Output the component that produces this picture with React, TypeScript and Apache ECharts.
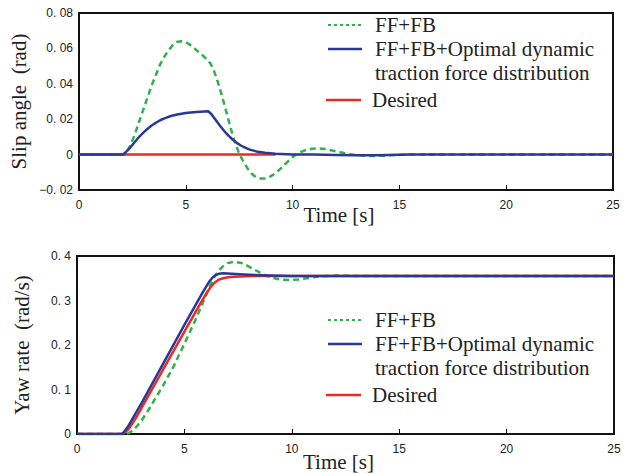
import React, { useEffect, useRef } from "react";
import * as echarts from "echarts";

// ---- data (Time [s], value) ----
const slipFF_t = [0, 2.0, 2.2, 2.4, 2.6, 2.8, 3.0, 3.2, 3.4, 3.6, 3.8, 4.0, 4.2, 4.4, 4.6, 4.8, 5.0, 5.2, 5.4, 5.6, 5.8, 6.0, 6.15, 6.3, 6.5, 6.7, 6.9, 7.1, 7.3, 7.5, 7.7, 7.9, 8.1, 8.3, 8.5, 8.7, 8.9, 9.1, 9.3, 9.5, 9.7, 9.9, 10.1, 10.3, 10.6, 10.9, 11.2, 11.5, 11.8, 12.1, 12.4, 12.7, 13.0, 13.4, 13.8, 14.3, 14.8, 15.3, 25];
const slipFF_v = [0, 0, 0.001, 0.005, 0.011, 0.018, 0.025, 0.032, 0.039, 0.045, 0.051, 0.0555, 0.059, 0.062, 0.0637, 0.064, 0.0635, 0.062, 0.06, 0.058, 0.056, 0.0535, 0.0515, 0.048, 0.041, 0.033, 0.024, 0.015, 0.007, 0.0005, -0.004, -0.008, -0.011, -0.0128, -0.0135, -0.0135, -0.0128, -0.0113, -0.0095, -0.0072, -0.0048, -0.0025, -0.0005, 0.001, 0.0025, 0.0033, 0.0035, 0.0032, 0.0025, 0.0017, 0.0009, 0.0002, -0.0003, -0.0007, -0.0008, -0.0006, -0.0002, 0, 0];

const slipOpt_t = [0, 2.08, 2.2, 2.4, 2.6, 2.8, 3.0, 3.2, 3.4, 3.6, 3.8, 4.0, 4.3, 4.6, 5.0, 5.5, 6.05, 6.2, 6.4, 6.6, 6.8, 7.0, 7.2, 7.4, 7.6, 7.8, 8.0, 8.3, 8.7, 9.2, 10, 11, 12, 13, 13.8, 14.5, 15.5, 25];
const slipOpt_v = [0, 0, 0.0015, 0.004, 0.007, 0.0098, 0.0123, 0.0145, 0.0164, 0.018, 0.0194, 0.0205, 0.0218, 0.0227, 0.0235, 0.024, 0.0245, 0.0228, 0.0195, 0.0163, 0.0133, 0.0107, 0.0084, 0.0065, 0.005, 0.0038, 0.0028, 0.0018, 0.001, 0.0005, 0.0001, 0, -0.0002, -0.0004, -0.0004, -0.0002, 0, 0];

const slipDes_t = [0, 9.2];
const slipDes_v = [0, 0];

const yawFF_t = [0, 2.25, 2.4, 2.6, 2.8, 3.0, 3.3, 3.6, 4.0, 4.5, 5.0, 5.5, 5.8, 6.0, 6.2, 6.4, 6.6, 6.8, 7.0, 7.3, 7.6, 7.9, 8.2, 8.5, 8.8, 9.1, 9.5, 9.9, 10.3, 10.7, 11.1, 11.6, 12.2, 13, 25];
const yawFF_v = [0, 0, 0.002, 0.008, 0.018, 0.03, 0.052, 0.076, 0.108, 0.152, 0.203, 0.255, 0.288, 0.312, 0.334, 0.353, 0.367, 0.377, 0.384, 0.387, 0.385, 0.379, 0.371, 0.363, 0.356, 0.351, 0.347, 0.346, 0.347, 0.35, 0.353, 0.355, 0.356, 0.355, 0.355];

const yawOpt_t = [0, 2.08, 2.2, 2.35, 2.5, 2.7, 3.0, 4.0, 5.0, 5.8, 6.0, 6.15, 6.3, 6.45, 6.6, 6.8, 7.2, 8, 9, 10, 25];
const yawOpt_v = [0, 0, 0.005, 0.015, 0.027, 0.044, 0.069, 0.157, 0.245, 0.314, 0.33, 0.342, 0.351, 0.357, 0.36, 0.361, 0.36, 0.358, 0.356, 0.355, 0.355];

const yawDes_t = [0, 2.1, 2.25, 2.4, 2.6, 2.8, 3.0, 4.0, 5.0, 5.8, 6.0, 6.2, 6.4, 6.6, 6.8, 7.1, 7.6, 8.2, 25];
const yawDes_v = [0, 0, 0.004, 0.011, 0.025, 0.041, 0.058, 0.144, 0.23, 0.298, 0.314, 0.329, 0.34, 0.347, 0.35, 0.353, 0.354, 0.355, 0.355];

const legendNames = ["FF+FB", "FF+FB+Optimal dynamic", "traction force distribution", "Desired"];
const axisNames = ["Slip angle  (rad)", "Yaw rate  (rad/s)", "Time [s]"];

const GREEN = "#2fb24a";
const BLUE = "#2a3896";
const RED = "#ec2a24";

const pairs = (t: number[], v: number[]) => t.map((x, i) => [x, v[i]]);

const fmtY = (dec: number) => (v: number) => {
  if (Math.abs(v) < 1e-9) return "0";
  const s = Math.abs(v).toFixed(dec).replace(".", ". ");
  return (v < 0 ? "\u2212" : "") + s;
};

const tickFont = { fontFamily: "Liberation Sans", fontSize: 12, color: "#222" };
const serif = "Liberation Serif";

function legendGraphic(top: number) {
  const items: any[] = [];
  const rows = [top, top + 24, top + 48, top + 75];
  items.push({ type: "line", shape: { x1: 328, y1: rows[0], x2: 362, y2: rows[0] }, style: { stroke: GREEN, lineWidth: 2, lineDash: [3, 3] } });
  items.push({ type: "line", shape: { x1: 328, y1: rows[1], x2: 362, y2: rows[1] }, style: { stroke: BLUE, lineWidth: 2.5 } });
  items.push({ type: "line", shape: { x1: 326, y1: rows[3], x2: 361, y2: rows[3] }, style: { stroke: RED, lineWidth: 2.5 } });
  const tx = [375, 375, 375, 372];
  for (let i = 0; i < 4; i++) {
    items.push({
      type: "text",
      x: tx[i],
      y: rows[i],
      style: { text: legendNames[i], fontFamily: serif, fontSize: 21, fill: "#222", verticalAlign: "middle", align: "left" },
    });
  }
  return items;
}

const xAxisBase = (gridIndex: number) => ({
  type: "value",
  gridIndex,
  min: 0,
  max: 25,
  interval: 5,
  name: axisNames[2],
  nameLocation: "middle",
  nameGap: gridIndex === 0 ? 14 : 17,
  nameMoveOverlap: false,
  nameTextStyle: { fontFamily: serif, fontSize: 21, color: "#222", padding: [0, 14, 0, 0] },
  axisLine: { show: true, onZero: false, lineStyle: { color: "#111", width: 2 } },
  axisTick: { show: true, inside: true, length: 5, lineStyle: { color: "#111" } },
  axisLabel: { ...tickFont, margin: 9 },
  splitLine: { show: false },
});

const yAxisBase = (gridIndex: number, min: number, max: number, interval: number, dec: number, gap: number) => ({
  type: "value",
  gridIndex,
  min,
  max,
  interval,
  name: axisNames[gridIndex],
  nameLocation: "middle",
  nameGap: gap,
  nameMoveOverlap: false,
  nameTextStyle: { fontFamily: serif, fontSize: 21, color: "#222" },
  axisLine: { show: true, lineStyle: { color: "#111", width: 2 } },
  axisTick: { show: false },
  axisLabel: { ...tickFont, margin: 6, formatter: fmtY(dec) },
  splitLine: { show: false },
});

export default function App() {
  const ref = useRef<HTMLDivElement>(null);
  useEffect(() => {
    if (!ref.current) return;
    const chart = echarts.init(ref.current, undefined, { renderer: "svg" });
    const line = (name: string, data: any, xi: number, color: string, dashed: boolean, z: number) => ({
      type: "line",
      name,
      xAxisIndex: xi,
      yAxisIndex: xi,
      data,
      showSymbol: false,
      smooth: false,
      z,
      lineStyle: { color, width: 2.5, type: dashed ? [6, 4] : "solid", join: "round" },
    });
    chart.setOption({
      animation: false,
      backgroundColor: "#fff",
      grid: [
        { left: 77, right: 26, top: 13, height: 177, show: true, borderColor: "#111", borderWidth: 2 },
        { left: 77, right: 25, top: 256, height: 178, show: true, borderColor: "#111", borderWidth: 2 },
      ],
      xAxis: [xAxisBase(0), xAxisBase(1)],
      yAxis: [yAxisBase(0, -0.02, 0.08, 0.02, 2, 50), yAxisBase(1, 0, 0.4, 0.1, 1, 45)],
      series: [
        line("FF+FB", pairs(slipFF_t, slipFF_v), 0, GREEN, true, 1),
        line("Desired", pairs(slipDes_t, slipDes_v), 0, RED, false, 2),
        line("FF+FB+Optimal dynamic traction force distribution", pairs(slipOpt_t, slipOpt_v), 0, BLUE, false, 3),
        line("FF+FB", pairs(yawFF_t, yawFF_v), 1, GREEN, true, 1),
        line("Desired", pairs(yawDes_t, yawDes_v), 1, RED, false, 2),
        line("FF+FB+Optimal dynamic traction force distribution", pairs(yawOpt_t, yawOpt_v), 1, BLUE, false, 3),
      ],
      graphic: [...legendGraphic(25), ...legendGraphic(320)],
    });
    return () => chart.dispose();
  }, []);
  return <div ref={ref} style={{ position: "fixed", left: 0, top: 0, width: 639, height: 475 }} />;
}
